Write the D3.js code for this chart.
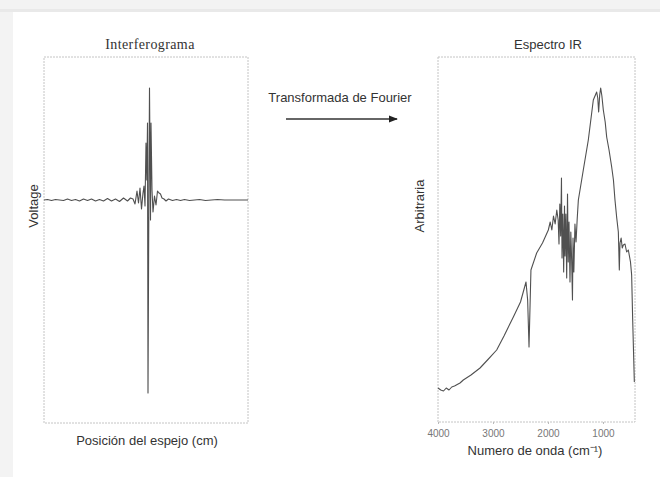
<!DOCTYPE html>
<meta charset="utf-8">
<style>
    body {
        margin: 0;
        background: #f3f3f3;
        font-family: "Liberation Sans", Arial, sans-serif;
    }

    .frame {
        fill: none;
        stroke: #c4c4c4;
        stroke-width: 1px;
        stroke-dasharray: 2, 1;
    }

    .trace {
        fill: none;
        stroke: #505050;
        stroke-width: 1.1px;
        stroke-linejoin: round;
    }

    .label {
        fill: #333;
        font-size: 13px;
    }

    .tick text {
        fill: #777;
        font-size: 10px;
    }
</style>

<body>
    <script src="https://cdn.jsdelivr.net/npm/d3@7"></script>
    <script>
        // Interferogram: mirror position (centre burst at 0) and detector voltage
        var positions = [-105.5, -102, -98, -94, -90, -86, -82, -78, -74, -70, -66, -62, -58, -54, -50, -46, -42, -38,
            -34, -30, -26, -22, -19, -16.5, -14.5, -12.5, -11, -9.5, -8, -6.5, -5.5, -4.5, -3.5, -2.7, -2, -1.5, -0.5,
            0, 1, 1.5, 2.5, 3.5, 5, 6.5, 8, 9.5, 11, 12.5, 14.5, 16.5, 19, 23, 27, 31, 35, 40, 45, 50, 56, 62, 68, 75,
            82, 90, 98.5];
        var voltage = [0, 0.005, -0.005, 0.005, 0, -0.005, 0.01, -0.005, 0.005, -0.01, 0.01, -0.005, 0.01, -0.01, 0.005,
            -0.01, 0.015, -0.01, 0.01, -0.015, 0.02, -0.01, 0.02, 0.01, -0.04, 0.09, -0.03, 0.12, -0.09, 0.07, 0.14, -0.06,
            0.57, 0.20, 0.77, -1.93, 0.30, 1.12, -0.20, 0.77, 0.10, -0.12, 0.04, -0.05, 0.09, 0.07, 0.06, 0.02, 0.01,
            -0.01, 0.01, -0.005, 0.005, -0.005, 0.005, -0.005, 0, 0.005, -0.005, 0, 0.005, 0, 0, 0, 0];

        // IR spectrum: wavenumber (cm-1) and intensity (arbitrary)
        var wavenumber = [4000, 3950, 3900, 3850, 3800, 3750, 3700, 3600, 3540, 3400, 3236, 3100, 2933, 2800, 2630,
            2500, 2400, 2370, 2345, 2310, 2206, 2100, 1994, 1960, 1930, 1900, 1870, 1840, 1815, 1800, 1785, 1770, 1755,
            1745, 1730, 1715, 1700, 1690, 1675, 1660, 1645, 1632, 1618, 1600, 1585, 1570, 1555, 1545, 1530, 1510, 1490,
            1470, 1448, 1358, 1267, 1176, 1115, 1095, 1079, 1060, 1042, 1020, 994, 960, 933, 890, 842, 810, 782, 750,
            721, 703, 691, 670, 650, 630, 600, 570, 539, 500, 479, 460, 430];
        var intensity = [0.34, 0.32, 0.31, 0.34, 0.32, 0.35, 0.36, 0.39, 0.42, 0.47, 0.54, 0.62, 0.72, 0.86, 1.05,
            1.20, 1.40, 1.22, 0.75, 1.52, 1.69, 1.79, 1.92, 2.00, 1.92, 2.06, 1.98, 2.12, 2.02, 1.78, 2.18, 1.86, 2.44,
            1.64, 2.08, 1.50, 2.16, 1.66, 2.08, 1.44, 2.28, 1.60, 2.00, 1.40, 1.90, 1.62, 1.22, 1.84, 1.50, 1.98, 1.80,
            2.02, 2.22, 2.52, 2.82, 3.22, 3.30, 3.24, 3.10, 3.27, 3.34, 3.26, 3.12, 3.00, 2.85, 2.72, 2.55, 2.42, 2.22,
            2.04, 1.90, 1.52, 1.79, 1.84, 1.74, 1.77, 1.78, 1.70, 1.72, 1.60, 1.47, 1.02, 0.40];
        var wnTicks = [4000, 3000, 2000, 1000];

        var width = 660,
            height = 477;

        var svg = d3.select("body").append("svg")
            .attr("width", width)
            .attr("height", height)
            .style("display", "block");

        // page card
        svg.append("rect").attr("x", 0).attr("y", 9).attr("width", width).attr("height", 3).attr("fill", "#e9e9e9");
        svg.append("rect").attr("x", 13).attr("y", 12).attr("width", width - 13).attr("height", height - 12)
            .attr("fill", "#fff");

        // ---- Interferogram ----
        var left = { x0: 44, x1: 248, y0: 57, y1: 423 };
        var xPos = d3.scaleLinear().domain([-105.5, 98.5]).range([left.x0, left.x1]);
        var yVolt = d3.scaleLinear().domain([-2.23, 1.43]).range([left.y1, left.y0]);

        svg.append("rect").attr("class", "frame")
            .attr("x", left.x0).attr("y", left.y0)
            .attr("width", left.x1 - left.x0).attr("height", left.y1 - left.y0);

        svg.append("path")
            .datum(d3.range(positions.length))
            .attr("class", "trace")
            .attr("stroke", "#444")
            .attr("stroke-width", 1.3)
            .attr("d", d3.line()
                .x(function (i) { return xPos(positions[i]); })
                .y(function (i) { return yVolt(voltage[i]); }));

        svg.append("text").attr("x", 150).attr("y", 49)
            .attr("text-anchor", "middle")
            .attr("fill", "#333")
            .style("font-family", "'Liberation Serif', 'DejaVu Serif', serif")
            .style("font-size", "14px")
            .style("letter-spacing", "0.4px")
            .text("Interferograma");

        svg.append("text").attr("class", "label")
            .attr("transform", "translate(38,206) rotate(-90)")
            .attr("text-anchor", "middle")
            .text("Voltage");

        svg.append("text").attr("class", "label")
            .attr("x", 147).attr("y", 445)
            .attr("text-anchor", "middle")
            .text("Posición del espejo (cm)");

        // ---- Fourier arrow ----
        svg.append("defs").append("marker")
            .attr("id", "head")
            .attr("viewBox", "0 0 10 10")
            .attr("refX", 9).attr("refY", 5)
            .attr("markerWidth", 7).attr("markerHeight", 7)
            .attr("orient", "auto")
            .append("path").attr("d", "M0,1L10,5L0,9Z").attr("fill", "#222");

        svg.append("line")
            .attr("x1", 286).attr("x2", 397).attr("y1", 119).attr("y2", 119)
            .attr("stroke", "#333").attr("stroke-width", 1.3)
            .attr("marker-end", "url(#head)");

        svg.append("text").attr("class", "label")
            .attr("x", 340).attr("y", 102)
            .attr("text-anchor", "middle")
            .text("Transformada de Fourier");

        // ---- IR spectrum ----
        var right = { x0: 438, x1: 635, y0: 57, y1: 422 };
        var xWn = d3.scaleLinear().domain([4000, 418]).range([right.x0, right.x1]);
        var yInt = d3.scaleLinear().domain([0, 3.65]).range([right.y1, right.y0]);

        svg.append("rect").attr("class", "frame")
            .attr("x", right.x0).attr("y", right.y0)
            .attr("width", right.x1 - right.x0).attr("height", right.y1 - right.y0);

        svg.append("path")
            .datum(d3.range(wavenumber.length))
            .attr("class", "trace")
            .attr("stroke", "#5a5a5a")
            .attr("stroke-width", 1)
            .attr("d", d3.line()
                .x(function (i) { return xWn(wavenumber[i]); })
                .y(function (i) { return yInt(intensity[i]); }));

        var axis = svg.append("g")
            .attr("transform", "translate(0," + right.y1 + ")")
            .call(d3.axisBottom(xWn).tickValues(wnTicks).tickFormat(d3.format("d")).tickSize(2).tickPadding(6));
        axis.select(".domain").remove();
        axis.selectAll(".tick line").attr("stroke", "#bbb");

        svg.append("text").attr("x", 548).attr("y", 49)
            .attr("text-anchor", "middle")
            .attr("fill", "#333")
            .style("font-size", "13px")
            .text("Espectro IR");

        svg.append("text").attr("class", "label")
            .attr("transform", "translate(424,206) rotate(-90)")
            .attr("text-anchor", "middle")
            .text("Arbitraria");

        svg.append("text").attr("class", "label")
            .attr("x", 535).attr("y", 455)
            .attr("text-anchor", "middle")
            .text("Numero de onda (cm\u207B\u00B9)");
    </script>
</body>
